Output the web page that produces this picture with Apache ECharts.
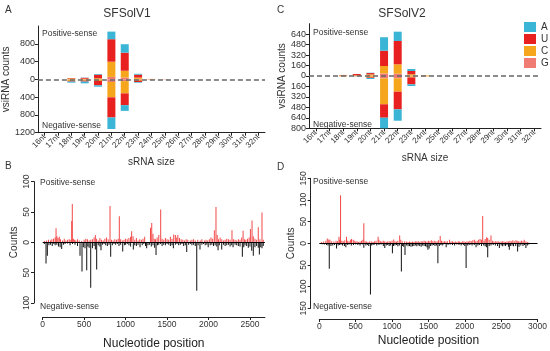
<!DOCTYPE html>
<html><head><meta charset="utf-8">
<script src="https://cdn.jsdelivr.net/npm/echarts@6/dist/echarts.min.js"></script>
<style>html,body{margin:0;padding:0;background:#fff}#c{width:550px;height:351px}</style>
</head><body><div id="c"></div>
<script>
// ---- Panel A / C : size categories ----
const sizes = ['16nt','17nt','18nt','19nt','20nt','21nt','22nt','23nt','24nt','25nt','26nt','27nt','28nt','29nt','30nt','31nt','32nt'];
const bases = ['G','C','U','A'];
const legendOrder = ['A','U','C','G'];
// SFSolV1 positive-sense counts per base
const v1PosG = [0,0,5,5,5,55,40,10,5,3,0,0,0,0,0,0,0];
const v1PosC = [0,0,15,10,20,342,154,30,5,0,0,0,0,0,0,0,0];
const v1PosU = [0,0,10,20,80,506,406,65,0,0,0,0,0,0,0,0,0];
const v1PosA = [0,0,0,5,15,171,190,20,0,0,0,0,0,0,0,0,0];
// SFSolV1 negative-sense counts per base
const v1NegG = [0,0,5,5,5,60,40,10,5,3,0,0,0,0,0,0,0];
const v1NegC = [0,0,30,25,30,345,276,20,0,0,0,0,0,0,0,0,0];
const v1NegU = [0,0,15,20,100,452,264,30,0,0,0,0,0,0,0,0,0];
const v1NegA = [0,0,25,40,30,260,129,15,0,0,0,0,0,0,0,0,0];
// SFSolV2 positive-sense counts per base
const v2PosG = [0,0,3,2,5,40,35,7,3,0,0,0,0,0,0,0,0];
const v2PosC = [0,0,8,8,20,113,144,20,8,0,0,0,0,0,0,0,0];
const v2PosU = [0,0,5,20,20,234,357,50,0,0,0,0,0,0,0,0,0];
const v2PosA = [0,0,0,0,5,206,142,30,0,0,0,0,0,0,0,0,0];
// SFSolV2 negative-sense counts per base
const v2NegG = [0,0,3,2,5,36,35,7,3,0,0,0,0,0,0,0,0];
const v2NegC = [0,0,3,3,15,397,205,15,3,0,0,0,0,0,0,0,0];
const v2NegU = [0,0,0,0,10,205,270,106,0,0,0,0,0,0,0,0,0];
const v2NegA = [0,0,0,3,16,163,174,25,0,0,0,0,0,0,0,0,0];

// ---- Panel B / D : [nucleotide position, count] ----
const v1Pos = [[20,2],[45,3],[70,4],[95,3],[110,5],[130,6],[150,8],[161,23],[172,10],[185,7],[200,9],[215,5],[240,3],[260,6],[280,3],[300,4],[320,5],[340,4],[350,35],[357,63],[370,6],[385,4],[400,3],[420,5],[440,3],[470,2],[500,4],[520,6],[540,5],[560,3],[580,4],[600,5],[620,8],[635,12],[650,6],[670,3],[690,7],[710,4],[730,3],[750,6],[770,8],[790,5],[812,60],[830,4],[850,3],[870,5],[890,4],[910,6],[924,43],[940,5],[960,3],[980,4],[1000,6],[1020,5],[1040,7],[1060,9],[1073,18],[1090,10],[1110,4],[1130,7],[1150,3],[1170,5],[1190,4],[1210,6],[1230,9],[1300,24],[1315,32],[1330,14],[1345,6],[1360,5],[1380,8],[1400,12],[1423,54],[1440,6],[1460,4],[1480,7],[1500,5],[1520,4],[1540,9],[1560,6],[1580,13],[1600,12],[1616,8],[1630,12],[1650,7],[1670,5],[1690,4],[1710,3],[1730,5],[1750,4],[1780,3],[1800,4],[1820,5],[1840,3],[1870,4],[1900,3],[1920,5],[1950,3],[1970,4],[1990,3],[2010,5],[2030,8],[2050,6],[2070,20],[2090,58],[2105,12],[2120,5],[2140,8],[2160,5],[2180,3],[2200,4],[2220,6],[2240,5],[2260,4],[2283,20],[2300,5],[2320,4],[2340,3],[2360,5],[2380,4],[2400,8],[2417,19],[2435,5],[2450,4],[2470,6],[2490,8],[2505,22],[2525,36],[2540,10],[2560,6],[2580,4],[2600,25],[2620,5],[2645,49],[2660,4]];
const v1Neg = [[20,3],[40,35],[56,22],[75,5],[95,4],[115,6],[135,3],[150,5],[170,4],[190,7],[210,8],[229,11],[250,4],[270,3],[300,2],[330,5],[360,3],[390,4],[420,6],[450,22],[474,48],[490,8],[510,10],[531,46],[545,7],[560,9],[579,75],[600,10],[620,6],[635,12],[651,45],[670,5],[690,7],[703,13],[720,4],[740,3],[760,5],[780,6],[800,4],[820,24],[840,5],[860,3],[880,4],[900,3],[920,6],[940,4],[965,15],[985,5],[1000,4],[1020,3],[1040,5],[1060,7],[1093,12],[1110,5],[1130,6],[1150,4],[1174,8],[1200,5],[1220,3],[1240,6],[1254,10],[1270,5],[1290,4],[1310,7],[1330,5],[1350,9],[1367,21],[1385,5],[1400,4],[1420,3],[1440,6],[1460,4],[1480,5],[1500,3],[1520,4],[1540,6],[1560,5],[1576,10],[1600,4],[1620,3],[1640,5],[1660,4],[1680,3],[1700,6],[1720,5],[1737,16],[1760,4],[1780,3],[1800,5],[1820,4],[1840,6],[1858,80],[1875,5],[1897,12],[1920,4],[1940,3],[1960,5],[1980,4],[1996,8],[2020,5],[2040,4],[2060,6],[2080,5],[2100,7],[2115,13],[2130,5],[2159,12],[2180,4],[2200,6],[2220,5],[2240,4],[2260,7],[2280,5],[2296,8],[2320,4],[2340,5],[2360,6],[2380,7],[2408,24],[2425,8],[2440,5],[2460,6],[2480,9],[2500,7],[2521,14],[2540,22],[2560,8],[2580,6],[2600,9],[2613,20],[2630,8],[2645,10],[2660,6]];
const v2Pos = [[30,3],[60,4],[90,6],[110,11],[130,9],[146,8],[170,5],[200,4],[230,6],[250,5],[270,15],[280,8],[292,111],[310,6],[330,5],[350,7],[374,15],[390,6],[410,5],[430,8],[443,10],[466,8],[480,6],[500,4],[520,5],[540,3],[560,4],[580,6],[600,8],[612,46],[630,5],[650,4],[670,3],[694,5],[720,4],[740,3],[760,5],[780,6],[808,15],[820,8],[840,5],[860,4],[880,6],[900,5],[920,3],[940,4],[960,5],[980,4],[1000,6],[1023,9],[1040,5],[1060,4],[1080,6],[1105,18],[1120,8],[1140,5],[1173,5],[1200,4],[1220,3],[1240,4],[1260,3],[1280,4],[1300,3],[1320,5],[1340,4],[1360,5],[1380,3],[1400,5],[1420,4],[1440,6],[1460,5],[1480,4],[1500,6],[1520,5],[1540,7],[1560,5],[1580,6],[1600,4],[1620,5],[1640,7],[1662,17],[1680,6],[1700,4],[1720,5],[1740,4],[1760,5],[1790,8],[1810,4],[1830,5],[1850,3],[1870,4],[1890,3],[1910,5],[1930,4],[1950,3],[1972,5],[1990,4],[2010,3],[2030,5],[2050,4],[2070,6],[2090,5],[2110,7],[2132,8],[2150,5],[2170,6],[2190,8],[2210,10],[2230,8],[2246,63],[2265,6],[2280,10],[2300,14],[2315,12],[2335,8],[2360,18],[2380,6],[2400,4],[2420,5],[2440,4],[2460,5],[2480,3],[2500,4],[2520,5],[2540,4],[2560,3],[2580,5],[2600,4],[2620,6],[2640,5],[2660,7],[2680,5],[2703,7],[2720,6],[2740,5],[2760,4],[2780,6],[2800,5],[2817,8],[2840,4],[2860,3],[2880,2]];
const v2Neg = [[40,2],[70,3],[100,4],[120,5],[137,59],[160,6],[185,5],[210,4],[237,12],[260,5],[280,4],[300,3],[320,5],[345,6],[365,9],[390,4],[410,3],[440,5],[470,4],[500,3],[530,4],[560,5],[590,3],[612,10],[640,5],[660,4],[680,6],[703,118],[720,5],[740,4],[760,3],[790,5],[820,4],[850,3],[880,6],[900,11],[920,5],[940,4],[960,6],[980,5],[1005,23],[1020,6],[1040,5],[1060,4],[1080,7],[1100,5],[1128,65],[1145,6],[1160,8],[1178,27],[1200,5],[1220,7],[1240,6],[1260,8],[1280,7],[1300,6],[1320,5],[1340,7],[1360,5],[1380,6],[1400,8],[1420,5],[1440,6],[1460,7],[1480,9],[1493,15],[1510,12],[1530,6],[1550,5],[1570,4],[1590,6],[1610,5],[1630,46],[1650,6],[1670,4],[1690,5],[1710,3],[1744,9],[1770,4],[1800,3],[1830,4],[1860,5],[1890,3],[1920,4],[1950,5],[1980,4],[2000,6],[2018,57],[2040,5],[2060,4],[2080,3],[2100,5],[2130,4],[2155,9],[2180,5],[2200,4],[2230,6],[2260,5],[2280,7],[2300,9],[2315,32],[2335,6],[2360,5],[2390,4],[2420,5],[2450,6],[2475,11],[2500,5],[2520,7],[2540,5],[2560,6],[2580,4],[2600,8],[2612,15],[2630,6],[2650,5],[2670,7],[2700,6],[2726,19],[2745,8],[2770,5],[2800,6],[2820,4],[2840,11],[2860,5],[2880,3]];

const colors = {A:'#3ab5d6', U:'#e8201f', C:'#f5a61c', G:'#f07b72'};
const FONT = 'Liberation Sans, Arial, sans-serif';
const TXT = '#333';

const v1 = {pos:{G:v1PosG,C:v1PosC,U:v1PosU,A:v1PosA}, neg:{G:v1NegG,C:v1NegC,U:v1NegU,A:v1NegA}};
const v2 = {pos:{G:v2PosG,C:v2PosC,U:v2PosU,A:v2PosA}, neg:{G:v2NegG,C:v2NegC,U:v2NegU,A:v2NegA}};

function sizeSeries(set, idx) {
  const out = [];
  bases.forEach(b => {
    out.push({type:'bar', name:b, xAxisIndex:idx, yAxisIndex:idx, stack:'s'+idx, barWidth:8,
      itemStyle:{color:colors[b]}, data:set.pos[b]});
    out.push({type:'bar', name:b, xAxisIndex:idx, yAxisIndex:idx, stack:'s'+idx, barWidth:8,
      itemStyle:{color:colors[b]}, data:set.neg[b].map(v => -v)});
  });
  out[out.length-1].markLine = {silent:true, symbol:['none','none'], label:{show:false},
    lineStyle:{type:[5,3], color:'#666', width:1.5}, data:[{yAxis:0}]};
  return out;
}
function posSeries(pos, neg, idx) {
  return [
    {type:'bar', xAxisIndex:idx, yAxisIndex:idx, barWidth:1, barGap:'-100%',
      itemStyle:{color:'rgba(240,40,40,0.85)'}, data:pos},
    {type:'bar', xAxisIndex:idx, yAxisIndex:idx, barWidth:1, barGap:'-100%',
      itemStyle:{color:'#111'}, data:neg.map(d => [d[0], -d[1]]),
      markLine:{silent:true, symbol:['none','none'], label:{show:false},
        lineStyle:{type:'solid', color:'#000', width:1}, data:[{yAxis:0}]}}
  ];
}
const axLine = {show:true, onZero:false, lineStyle:{color:'#222', width:1}};
const axTick = {show:true, length:3, lineStyle:{color:'#222'}};
function catX(grid) {
  return {type:'category', gridIndex:grid, data:sizes, axisLine:axLine,
    axisTick:{show:true, alignWithLabel:true, interval:0, length:3, lineStyle:{color:'#222'}},
    axisLabel:{rotate:45, interval:0, hideOverlap:false, fontSize:8, margin:3, color:TXT, fontFamily:FONT},
    name:'sRNA size', nameLocation:'middle', nameGap:25,
    nameTextStyle:{fontSize:10, color:TXT, fontFamily:FONT}};
}
function cntY(grid, lim, step, gap) {
  return {type:'value', gridIndex:grid, min:-lim, max:lim, interval:step,
    axisLine:axLine, axisTick:axTick, splitLine:{show:false},
    axisLabel:{fontSize:9, margin:3, color:TXT, fontFamily:FONT, showMaxLabel:false,
      formatter:v => String(Math.abs(v))},
    name:'vsiRNA counts', nameLocation:'middle', nameGap:gap,
    nameTextStyle:{fontSize:10, color:TXT, fontFamily:FONT}};
}
function posX(grid, max, off, gap) {
  return {type:'value', gridIndex:grid, min:0, max:max, interval:500, offset:off,
    axisLine:axLine, axisTick:axTick, splitLine:{show:false},
    axisLabel:{fontSize:8.5, margin:3, color:TXT, fontFamily:FONT, showMaxLabel: max % 500 === 0,
      formatter:v => String(v)},
    name:'Nucleotide position', nameLocation:'middle', nameGap:gap,
    nameTextStyle:{fontSize:12, color:'#222', fontFamily:FONT}};
}
function posY(grid, lim, off, gap) {
  return {type:'value', gridIndex:grid, min:-lim, max:lim, interval:50, offset:off,
    axisLine:axLine, axisTick:axTick, splitLine:{show:false},
    axisLabel:{fontSize:8.5, margin:3, rotate:90, color:TXT, fontFamily:FONT,
      formatter:v => String(Math.abs(v))},
    name:'Counts', nameLocation:'middle', nameGap:gap,
    nameTextStyle:{fontSize:10, color:TXT, fontFamily:FONT}};
}
function txt(x, y, s, size, align) {
  return {type:'text', x:x, y:y, style:{text:s, fontSize:size, fill:TXT, fontFamily:FONT,
    textAlign:align||'left', textVerticalAlign:'middle'}};
}

const option = {
  animation:false,
  textStyle:{fontFamily:FONT},
  grid:[
    {left:35, top:26, width:230, height:106.7},
    {left:309, top:23.7, width:232, height:104.6},
    {left:42.7, top:181.6, width:222.2, height:123.4},
    {left:319.3, top:178.3, width:219, height:130}
  ],
  xAxis:[catX(0), catX(1), posX(2, 2680, 14, 21), posX(3, 3000, 10.7, 16)],
  yAxis:[cntY(0, 1200, 400, 19), cntY(1, 800, 160, 21), posY(2, 100, 8.7, 15), posY(3, 150, 8.6, 14)],
  legend:{data:legendOrder, orient:'vertical', left:519, top:17, itemWidth:12, itemHeight:10,
    itemGap:2, icon:'rect', textStyle:{fontSize:10, color:TXT, fontFamily:FONT}, selectedMode:false},
  series:[].concat(sizeSeries(v1,0), sizeSeries(v2,1), posSeries(v1Pos,v1Neg,2), posSeries(v2Pos,v2Neg,3)),
  graphic:[
    txt(5, 10, 'A', 10), txt(277, 10, 'C', 10), txt(5, 166, 'B', 10), txt(277, 167, 'D', 10),
    txt(127, 14, 'SFSolV1', 12, 'center'), txt(402, 14, 'SFSolV2', 12, 'center'),
    txt(42, 33.5, 'Positive-sense', 8.5), txt(42, 126, 'Negative-sense', 8.5),
    txt(313, 33, 'Positive-sense', 8.5), txt(313, 125, 'Negative-sense', 8.5),
    txt(40, 183, 'Positive-sense', 8.5), txt(40, 307, 'Negative-sense', 8.5),
    txt(313, 182, 'Positive-sense', 8.5), txt(313, 307, 'Negative-sense', 8.5)
  ]
};
echarts.init(document.getElementById('c')).setOption(option);
</script></body></html>
